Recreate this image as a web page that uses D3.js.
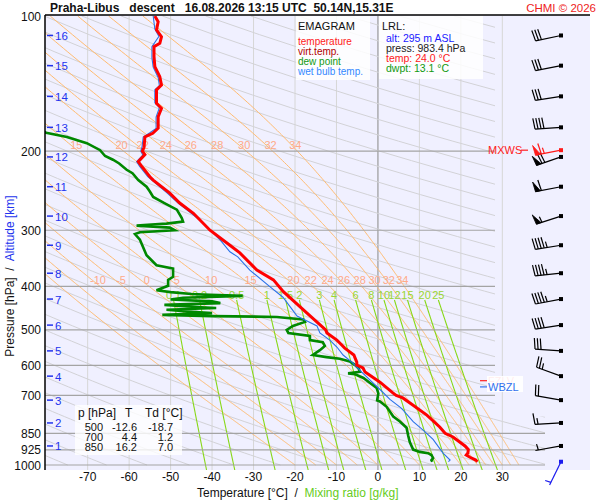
<!DOCTYPE html>
<html>
<head>
<script src="https://cdn.jsdelivr.net/npm/d3@7/dist/d3.min.js"></script>
<style>
  body { margin: 0; background: #fff; }
  svg text { font-family: "Liberation Sans", Arial, sans-serif; white-space: pre; }
</style>
</head>
<body>
<script>
// ---- data read off the sounding ----
// temperature [hPa, degC], top to bottom
var tempData = [
  [100, -53.8], [103, -53.0], [107.4, -53.4], [111.2, -52.2], [115, -52.6], [117, -54.0],
  [123.2, -54.0], [129.7, -53.8], [136.5, -52.6], [142.5, -52.2], [146.1, -53.4], [156.5, -53.4],
  [160.5, -52.2], [167.6, -53.0], [177.8, -53.0], [182.5, -54.3], [186, -56.2], [196, -56.4],
  [200, -56.8], [203.5, -56.2], [211, -57.8], [216, -57.0], [228, -55.0], [232, -54.2],
  [248, -50.2], [261, -47.8], [275, -44.5], [300, -40.5], [324, -35.7], [337, -33.3],
  [368, -29.2], [387, -25.2], [411, -22.8], [459, -17.1], [500, -12.6], [508, -12.3],
  [527, -9.9], [535, -9.2], [549, -8.0], [569, -5.8], [578, -5.5], [590, -5.1], [599, -5.1],
  [608, -3.6], [621, -3.1], [654, 0.5], [691, 3.6], [700, 4.4], [709, 6.0], [735, 8.4],
  [774, 11.8], [823, 14.9], [850, 16.2], [866, 18.1], [907, 21.0], [924, 21.8], [940, 21.7],
  [950, 21.3], [961, 22.2], [975, 23.6], [983.4, 24.0]
];
// dew point [hPa, degC]
var dewData = [
  [175, -84], [182, -80], [186, -75], [192, -70.2], [199, -67.0], [205, -65.8], [209, -63.9],
  [213, -62.4], [220, -60.6], [224, -59.2], [232, -57.8], [240, -55.8], [246, -55.0],
  [253, -54.2], [261, -51.5], [270, -48.5], [282, -47.3], [287, -47.0], [290, -51.0],
  [293, -58.2], [296, -50.2], [300, -49.0], [303, -57.4], [306, -58.6], [315, -57.4],
  [341, -55.8], [359, -53.4], [365, -49.4], [381, -49.4], [387, -50.6], [399, -50.6],
  [408, -53.4], [412, -50.0], [416, -45.0], [418, -40.5], [420, -32.6], [424, -47.0],
  [428, -50.0], [432, -40.0], [436, -38.0], [440, -51.5], [444, -45.0], [447, -39.0],
  [451, -51.0], [455, -46.0], [459, -40.0], [463, -52.0], [466, -40.0], [468, -24.4],
  [474, -18.0], [480, -17.6], [490, -20.5], [500, -22.0], [508, -21.6], [516, -16.4],
  [527, -16.4], [533, -13.3], [543, -12.8], [555, -14.0], [569, -15.7], [575, -12.4],
  [580, -9.2], [588, -6.8], [599, -5.5], [609, -4.7], [620, -4.3], [625, -7.2], [628, -5.5],
  [640, -3.5], [657, -1.9], [674, -0.3], [693, 0.1], [718, -0.2], [722, 0.5], [742, 2.1],
  [780, 3.7], [800, 5.3], [826, 6.9], [860, 7.3], [890, 7.7], [924, 8.5], [935, 10.1],
  [941, 12.1], [950, 12.9], [965, 13.3], [975, 12.9], [983.4, 13.1]
];
// wet bulb temperature [hPa, degC]
var wetBulbData = [
  [100, -54.2], [107, -53.8], [111, -52.8], [117, -54.5], [124, -54.5], [130, -54.2],
  [137, -53.0], [143, -52.7], [146, -53.8], [156, -53.8], [160, -52.7], [168, -53.5],
  [178, -53.5], [182, -55.0], [186, -56.6], [196, -56.9], [200, -57.2], [204, -56.7],
  [211, -58.2], [216, -57.5], [228, -55.5], [248, -50.8], [261, -48.2], [275, -45.0],
  [289, -42.2], [315, -38.1], [335, -35.7], [344, -33.8], [368, -30.9], [401, -26.0],
  [423, -22.9], [444, -21.2], [466, -19.5], [478, -17.1], [490, -14.7], [508, -14.0],
  [527, -11.6], [546, -9.9], [569, -8.4], [590, -6.3], [605, -5.1], [621, -3.9], [647, -1.9],
  [679, 0.5], [714, 2.9], [748, 5.7], [801, 8.5], [836, 10.9], [877, 13.3], [941, 15.7],
  [975, 17.4], [983.4, 17.0]
];

// altitude marks [km] and their pressure levels [hPa]
var altKm = [1, 2, 3, 4, 5, 6, 7, 8, 9, 10, 11, 12, 13, 14, 15, 16];
var altPress = [907, 806, 717, 634, 557, 488, 427, 374, 324, 279, 240, 206, 177, 151, 129, 110.5];
// wind at each altitude mark: direction [deg], speed [kt]
var windDir = [260, 267, 280, 290, 274, 261, 259, 264, 261, 252, 259, 251, 266, 261, 259, 258];
var windSpd = [3, 15, 20, 25, 30, 40, 45, 45, 45, 55, 60, 70, 40, 30, 30, 30];
var sfcWind = { p: 983.4, dir: 206, spd: 3 };
var maxWind = { p: 199, dir: 259, spd: 65 };

var levelNames = ["FZLV", "WBZL"];
var levelPress = [649, 670];

var isobars = [200, 300, 400, 500, 600, 700, 850, 925, 1000];
var pressLabels = [100, 200, 300, 400, 500, 600, 700, 850, 925, 1000];
var tempTicks = [-70, -60, -50, -40, -30, -20, -10, 0, 10, 20, 30];
var mixRatios = [0.1, 0.2, 0.5, 1, 1.5, 2, 3, 4, 6, 8, 10, 12, 15, 20, 25];
var mixLabels = ["0.1", "0.2", "0.5", "1", "1.5", "2", "3", "4", "6", "8", "10", "12", "15", "20", "25"];
var thetaW = [-20, -15, -10, -5, 0, 5, 10, 15, 20, 22, 24, 26, 28, 30, 32, 34];
var thetaWLabels200 = [15, 20, 22, 24, 26, 28, 30, 32, 34];
var thetaWLabels400 = [-10, -5, 0, 5, 10, 15, 20, 22, 24, 26, 28, 30, 32, 34];

var legendNames = ["temperature", "virt.temp.", "dew point", "wet bulb temp."];
var legendColors = ["#ff1a1a", "#b00000", "#119911", "#3388ff"];
var lrlLines = ["alt: 295 m ASL", "press: 983.4 hPa", "temp: 24.0 \u00b0C", "dwpt: 13.1 \u00b0C"];
var lrlColors = ["#1a1aff", "#222", "#ff1a1a", "#119911"];

var tablePress = [500, 700, 850];
var tableT = [-12.6, 4.4, 16.2];
var tableTd = [-18.7, 1.2, 7.0];

// ---- scales ----
var x = d3.scaleLinear().domain([-80, 40]).range([46.2, 543.8]);
var y = d3.scaleLog().domain([100, 1000]).range([16, 465]);

var svg = d3.select("body").append("svg")
  .attr("width", 600).attr("height", 500);

svg.append("rect").attr("x", 45).attr("y", 15).attr("width", 545).attr("height", 455)
  .attr("fill", "#f0f0ff");

var defs = svg.append("defs");
defs.append("clipPath").attr("id", "diag").append("polygon")
  .attr("points", [[45, 16], [495, 16], [495, y(780)], [545, y(780)], [545, 470], [45, 470]].join(" "));
defs.append("clipPath").attr("id", "plot").append("rect")
  .attr("x", 45).attr("y", 16).attr("width", 500).attr("height", 454);

var line = d3.line().x(function(d) { return x(d[1]); }).y(function(d) { return y(d[0]); });

// ---- thermodynamic helpers for the background lines ----
function satVap(tc) { return 6.112 * Math.exp(17.67 * tc / (tc + 243.5)); }
function lapse(p, T) {
  var es = satVap(T - 273.15), rs = 0.622 * es / (p - es);
  var Rd = 287.04, Cp = 1005.7, Lv = 2.501e6;
  return (Rd * T + Lv * rs) / (Cp + Lv * Lv * rs * 0.622 / (Rd * T * T)) / p;
}
function moistCurve(tw) {
  var pts = [[1000, tw]], T = tw + 273.15, p = 1000, dp = -2;
  while (p > 100) {
    var k1 = lapse(p, T), k2 = lapse(p + dp / 2, T + k1 * dp / 2);
    T += k2 * dp; p += dp;
    pts.push([p, T - 273.15]);
  }
  return pts;
}
function moistAt(curve, p) {
  var i = Math.round((1000 - p) / 2);
  return curve[i][1];
}
function mixCurve(w) {
  var pts = [];
  for (var p = 429; p <= 1030; p += 5) {
    var e = w * p / (622 + w), l = Math.log(e / 6.112);
    pts.push([p, 243.5 * l / (17.67 - l)]);
  }
  return pts;
}
function dryCurve(th) {
  var pts = [];
  for (var p = 100; p <= 1000; p += 10) pts.push([p, th * Math.pow(p / 1000, 0.572) - 273.15]);
  return pts;
}

var grid = svg.append("g");

// isotherms
grid.selectAll(".iso").data(tempTicks).enter().append("line")
  .attr("x1", function(d) { return x(d); }).attr("x2", function(d) { return x(d); })
  .attr("y1", 16).attr("y2", 470)
  .attr("stroke", function(d) { return d === 0 ? "#999" : "#d6d6d6"; })
  .attr("stroke-width", function(d) { return d === 0 ? 1.2 : 1; });

var diag = svg.append("g").attr("clip-path", "url(#diag)");

// grey adiabats
var dryK = d3.range(-27, 14);
diag.selectAll(".dry").data(dryK).enter().append("path")
  .attr("d", function(k) { return line(dryCurve(Math.exp(6.486 + 0.046 * k))); })
  .attr("fill", "none").attr("stroke", "#d2d2d6").attr("stroke-width", 1);

// pseudo-adiabats
var moist = thetaW.map(function(t) { return { tw: t, pts: moistCurve(t) }; });
diag.selectAll(".moist").data(moist).enter().append("path")
  .attr("d", function(d) { return line(d.pts); })
  .attr("fill", "none").attr("stroke", "#ffbb70").attr("stroke-width", 1);

// mixing ratio lines
diag.selectAll(".mix").data(mixRatios).enter().append("path")
  .attr("d", function(w) { return line(mixCurve(w)); })
  .attr("fill", "none").attr("stroke", "#88d818").attr("stroke-width", 1.1);

// isobars
svg.selectAll(".isobar").data(isobars).enter().append("line")
  .attr("x1", 45).attr("x2", function(d) { return d >= 850 ? 545 : 495; })
  .attr("y1", function(d) { return y(d); }).attr("y2", function(d) { return y(d); })
  .attr("stroke", "#a4a4a4").attr("stroke-width", 1.2);

// labels of the pseudo-adiabats and mixing ratio lines
function moistLabels(vals, p) {
  svg.append("g").selectAll("text").data(vals).enter().append("text")
    .attr("x", function(t) { return x(moistAt(moist[thetaW.indexOf(t)].pts, p)) - 2; })
    .attr("y", y(p) - 2)
    .attr("text-anchor", "middle").attr("font-size", 11).attr("fill", "#ffaa88")
    .text(function(t) { return t; });
}
moistLabels(thetaWLabels200, 200);
moistLabels(thetaWLabels400, 400);

svg.append("g").selectAll("text").data(mixRatios).enter().append("text")
  .attr("x", function(w) { return x(mixCurve(w)[0][1]); })
  .attr("y", 298.5)
  .attr("text-anchor", "middle").attr("font-size", 11).attr("fill", "#99d633")
  .text(function(w, i) { return mixLabels[i]; });

// ---- profiles ----
var prof = svg.append("g").attr("clip-path", "url(#plot)");
prof.append("path").datum(dewData).attr("d", line)
  .attr("fill", "none").attr("stroke", "#008800").attr("stroke-width", 2.6);
prof.append("path").datum(wetBulbData).attr("d", line)
  .attr("fill", "none").attr("stroke", "#2a72e8").attr("stroke-width", 1.1);
prof.append("path").datum(tempData).attr("d", line)
  .attr("fill", "none").attr("stroke", "#ff0000").attr("stroke-width", 3);

// ---- freezing / wet-bulb zero levels ----
var lvColors = ["#ff2020", "#3070ee"];
levelNames.forEach(function(n, i) {
  var yy = y(levelPress[i]);
  if (i === 1) {
    svg.append("rect").attr("x", 487).attr("y", 376).attr("width", 36).attr("height", 16)
      .attr("fill", "#fff").attr("opacity", 0.92);
  }
  svg.append("line").attr("x1", 480).attr("x2", 487).attr("y1", yy).attr("y2", yy)
    .attr("stroke", lvColors[i]).attr("stroke-width", 1.2);
  svg.append("text").attr("x", 488).attr("y", yy + 4).attr("font-size", 11)
    .attr("fill", lvColors[i]).text(n);
});

// ---- axes frame and labels ----
svg.append("line").attr("x1", 45).attr("x2", 590).attr("y1", 15).attr("y2", 15)
  .attr("stroke", "#000").attr("stroke-width", 1.5);
svg.append("line").attr("x1", 45).attr("x2", 45).attr("y1", 15).attr("y2", 470)
  .attr("stroke", "#000").attr("stroke-width", 1.5);

svg.append("g").selectAll("text").data(pressLabels).enter().append("text")
  .attr("x", 41).attr("y", function(d) { return y(d) + 4.5; })
  .attr("text-anchor", "end").attr("font-size", 12).attr("fill", "#111")
  .text(function(d) { return d; });

var altG = svg.append("g").selectAll("g").data(altKm).enter().append("g")
  .attr("transform", function(d, i) { return "translate(0," + y(altPress[i]) + ")"; });
altG.append("line").attr("x1", 47).attr("x2", 53).attr("y1", 0).attr("y2", 0)
  .attr("stroke", "#2233ee").attr("stroke-width", 1.5);
altG.append("text").attr("x", 55).attr("y", 4.5).attr("font-size", 11.5)
  .attr("fill", "#2233ee").text(function(d) { return d; });

svg.append("g").selectAll("text").data(tempTicks).enter().append("text")
  .attr("x", function(d) { return x(d); }).attr("y", 481)
  .attr("text-anchor", "middle").attr("font-size", 12).attr("fill", "#111")
  .text(function(d) { return d; });

var xt = svg.append("text").attr("x", 197).attr("y", 497).attr("font-size", 12);
xt.append("tspan").attr("fill", "#111").text("Temperature [\u00b0C]  /  ");
xt.append("tspan").attr("fill", "#66cc22").text("Mixing ratio [g/kg]");

var yt = svg.append("text").attr("transform", "translate(14,276) rotate(-90)")
  .attr("text-anchor", "middle").attr("font-size", 12);
yt.append("tspan").attr("fill", "#111").text("Pressure [hPa]  /  ");
yt.append("tspan").attr("fill", "#2233ee").text("Altitude [km]");

svg.append("text").attr("x", 50).attr("y", 12).attr("font-size", 12).attr("font-weight", "bold")
  .attr("fill", "#111").text("Praha-Libus   descent   16.08.2026 13:15 UTC  50.14N,15.31E");
svg.append("text").attr("x", 596).attr("y", 12).attr("font-size", 11.5).attr("text-anchor", "end")
  .attr("fill", "#ee2222").text("CHMI \u00a9 2026");

// ---- legend boxes ----
svg.append("rect").attr("x", 296).attr("y", 16).attr("width", 74).attr("height", 64)
  .attr("fill", "#fff").attr("opacity", 0.85);
svg.append("text").attr("x", 298).attr("y", 30).attr("font-size", 11).attr("fill", "#111").text("EMAGRAM");
svg.append("g").selectAll("text").data(legendNames).enter().append("text")
  .attr("x", 298).attr("y", function(d, i) { return 45 + i * 10; })
  .attr("font-size", 10).attr("fill", function(d, i) { return legendColors[i]; })
  .text(function(d) { return d; });

svg.append("rect").attr("x", 379).attr("y", 16).attr("width", 104).attr("height", 63)
  .attr("fill", "#fff").attr("opacity", 0.85);
svg.append("text").attr("x", 382).attr("y", 30).attr("font-size", 11).attr("fill", "#111").text("LRL:");
svg.append("g").selectAll("text").data(lrlLines).enter().append("text")
  .attr("x", 386).attr("y", function(d, i) { return 42 + i * 10; })
  .attr("font-size", 10.5).attr("fill", function(d, i) { return lrlColors[i]; })
  .text(function(d) { return d; });

// ---- table ----
svg.append("rect").attr("x", 75).attr("y", 405).attr("width", 107).attr("height", 50)
  .attr("fill", "#fff").attr("opacity", 0.8);
var th = svg.append("g").attr("font-size", 12).attr("fill", "#111");
th.append("text").attr("x", 78).attr("y", 417).text("p [hPa]");
th.append("text").attr("x", 125).attr("y", 417).text("T");
th.append("text").attr("x", 145).attr("y", 417).text("Td [\u00b0C]");
var rows = svg.append("g").selectAll("g").data(tablePress).enter().append("g")
  .attr("font-size", 11).attr("fill", "#111").attr("text-anchor", "end");
rows.append("text").attr("x", 103).attr("y", function(d, i) { return 431 + i * 10; }).text(function(d) { return d; });
rows.append("text").attr("x", 137).attr("y", function(d, i) { return 431 + i * 10; })
  .text(function(d, i) { return tableT[i].toFixed(1); });
rows.append("text").attr("x", 173).attr("y", function(d, i) { return 431 + i * 10; })
  .text(function(d, i) { return tableTd[i].toFixed(1); });

// ---- wind barbs ----
var bx = 561;
function barb(p, dir, spd, color) {
  var g = svg.append("g");
  var px = bx, py = y(p);
  var a = dir * Math.PI / 180, ux = Math.sin(a), uy = -Math.cos(a);
  var L = 26, tx = px + ux * L, ty = py + uy * L;
  var nx = -uy, ny = ux;
  g.append("line").attr("x1", px).attr("y1", py).attr("x2", tx).attr("y2", ty)
    .attr("stroke", color).attr("stroke-width", 1.2);
  var rem = Math.round(spd / 5) * 5, pos = 0;
  while (rem >= 50) {
    var b1x = tx - ux * pos, b1y = ty - uy * pos, b2x = tx - ux * (pos + 5), b2y = ty - uy * (pos + 5);
    g.append("path").attr("d", "M" + b1x + "," + b1y + "L" + (b1x + nx * 10 + ux * 1) + "," + (b1y + ny * 10 + uy * 1) +
      "L" + b2x + "," + b2y + "Z").attr("fill", color).attr("stroke", color).attr("stroke-width", 0.8);
    pos += 6; rem -= 50;
  }
  while (rem >= 10) {
    var cx = tx - ux * pos, cy = ty - uy * pos;
    g.append("line").attr("x1", cx).attr("y1", cy)
      .attr("x2", cx + nx * 11 + ux * 1.5).attr("y2", cy + ny * 11 + uy * 1.5)
      .attr("stroke", color).attr("stroke-width", 1.2);
    pos += 3; rem -= 10;
  }
  if (rem >= 5) {
    if (pos === 0) pos = 3;
    var hx = tx - ux * pos, hy = ty - uy * pos;
    g.append("line").attr("x1", hx).attr("y1", hy)
      .attr("x2", hx + nx * 6 + ux * 0.8).attr("y2", hy + ny * 6 + uy * 0.8)
      .attr("stroke", color).attr("stroke-width", 1.2);
  }
  g.append("rect").attr("x", px - 2).attr("y", py - 2).attr("width", 4).attr("height", 4).attr("fill", color);
}
altKm.forEach(function(k, i) { barb(altPress[i], windDir[i], windSpd[i], "#000"); });
barb(sfcWind.p, sfcWind.dir, sfcWind.spd, "#1a1aee");
barb(maxWind.p, maxWind.dir, maxWind.spd, "#ff1a1a");

var my = y(maxWind.p);
svg.append("text").attr("x", 488).attr("y", my + 4).attr("font-size", 11).attr("fill", "#ff2020").text("MXWS");
svg.append("line").attr("x1", 521).attr("x2", 528).attr("y1", my).attr("y2", my)
  .attr("stroke", "#ff2020").attr("stroke-width", 1.2);
</script>
</body>
</html>
